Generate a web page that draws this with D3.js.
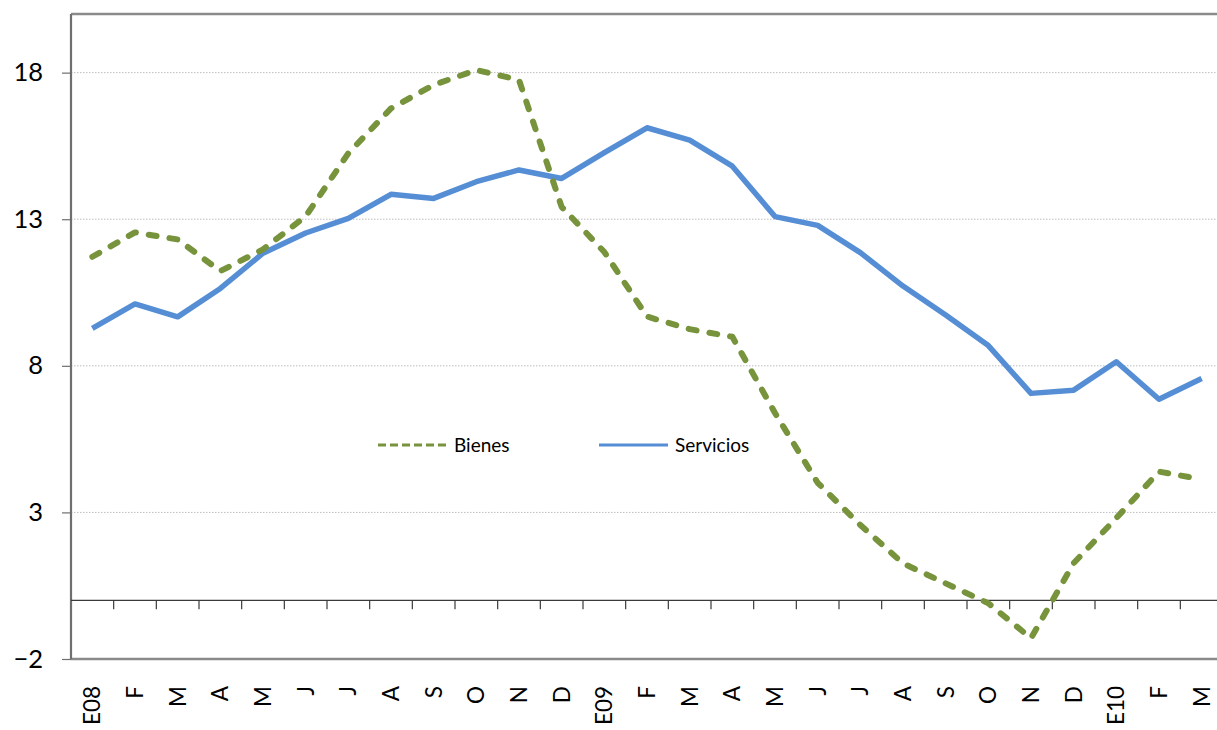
<!DOCTYPE html>
<html>
<head>
<meta charset="utf-8">
<script src="https://cdn.jsdelivr.net/npm/d3@7"></script>
<style>
  html, body { margin: 0; padding: 0; background: #fff; }
  svg { display: block; }
  text { font-family: Lato, "Open Sans", sans-serif; fill: #000; }
</style>
</head>
<body>
<svg id="chart" width="1217" height="730"></svg>
<script>
const categories = ["E08","F","M","A","M","J","J","A","S","O","N","D",
                    "E09","F","M","A","M","J","J","A","S","O","N","D",
                    "E10","F","M"];
const bienes = [11.72, 12.55, 12.31, 11.23, 11.97, 13.1, 15.25, 16.78, 17.58, 18.09, 17.75, 13.42,
                11.88, 9.68, 9.25, 8.99, 6.39, 4.01, 2.57, 1.26, 0.58, -0.1, -1.29, 1.27,
                2.81, 4.39, 4.13];
const servicios = [9.28, 10.11, 9.67, 10.64, 11.84, 12.53, 13.03, 13.85, 13.71, 14.28, 14.68, 14.39,
                   15.27, 16.12, 15.70, 14.81, 13.09, 12.79, 11.86, 10.72, 9.73, 8.69, 7.06, 7.17,
                   8.14, 6.86, 7.57];
const yTicks = [-2, 3, 8, 13, 18];
const seriesNames = ["Bienes", "Servicios"];

(function () {
const svg = d3.select("#chart");
const pL = 71, pR = 1223, pT = 14, pB = 659;

const x = d3.scaleBand().domain(d3.range(categories.length)).range([pL, pR]);
const y = d3.scaleLinear().domain([-2, 20]).range([pB, pT]);

// gridlines
svg.append("g").selectAll("line").data(yTicks.filter(d => d !== -2)).join("line")
  .attr("x1", pL).attr("x2", 1217)
  .attr("y1", d => y(d)).attr("y2", d => y(d))
  .attr("stroke", "#bdbdbd").attr("stroke-width", 1).attr("stroke-dasharray", "1.5,1.5");

// frame: top and bottom
svg.append("line").attr("x1", pL).attr("x2", 1217).attr("y1", pT).attr("y2", pT)
  .attr("stroke", "#8a8a8a").attr("stroke-width", 2.5);
svg.append("line").attr("x1", pL).attr("x2", 1217).attr("y1", pB).attr("y2", pB)
  .attr("stroke", "#8a8a8a").attr("stroke-width", 2.5);

// y axis
const yAxis = d3.axisLeft(y).tickValues(yTicks).tickSize(9).tickPadding(19).tickFormat(d3.format("d"));
const gy = svg.append("g").attr("transform", `translate(${pL},0)`).call(yAxis);
gy.select(".domain").attr("stroke", "#6f6f6f").attr("stroke-width", 2.2)
  .attr("d", `M0,${pT}V${pB}`);
gy.selectAll(".tick line").attr("stroke", "#6f6f6f").attr("stroke-width", 1.2);
gy.selectAll(".tick text").style("font-size", "25.5px").style("font-family", "Lato, sans-serif").attr("fill", "#000");

// x axis (at zero)
const gx = svg.append("g").attr("transform", `translate(0,${y(0)})`);
gx.append("line").attr("x1", pL).attr("x2", 1217).attr("y1", 0).attr("y2", 0)
  .attr("stroke", "#3a3a3a").attr("stroke-width", 1.3);
gx.selectAll("line.tk").data(d3.range(1, categories.length)).join("line").attr("class", "tk")
  .attr("x1", d => x(d)).attr("x2", d => x(d)).attr("y1", 0).attr("y2", 9)
  .attr("stroke", "#3a3a3a").attr("stroke-width", 1.2);

// x labels rotated
svg.append("g").selectAll("text").data(categories).join("text")
  .attr("transform", (d, i) => `translate(${x(i) + x.bandwidth() / 2},686) rotate(-90)`)
  .attr("text-anchor", "end").attr("dy", "0.36em")
  .style("font-size", "22.5px")
  .text(d => d);

// lines
const line = d3.line().x((d, i) => x(i) + x.bandwidth() / 2).y(d => y(d));
svg.append("path").datum(servicios).attr("d", line)
  .attr("fill", "none").attr("stroke", "#558ED5").attr("stroke-width", 5.5)
  .attr("stroke-linejoin", "round");
svg.append("path").datum(bienes).attr("d", line)
  .attr("fill", "none").attr("stroke", "#77933C").attr("stroke-width", 6)
  .attr("stroke-linecap", "round").attr("stroke-linejoin", "round")
  .attr("stroke-dasharray", "8,13");

// legend
const lg = svg.append("g");
lg.append("line").attr("x1", 378).attr("x2", 447).attr("y1", 445).attr("y2", 445)
  .attr("stroke", "#77933C").attr("stroke-width", 3).attr("stroke-dasharray", "8,4");
lg.append("text").attr("x", 454).attr("y", 445).attr("dy", "0.35em").style("font-size", "19px").text(seriesNames[0]);
lg.append("line").attr("x1", 599).attr("x2", 668).attr("y1", 445).attr("y2", 445)
  .attr("stroke", "#558ED5").attr("stroke-width", 3);
lg.append("text").attr("x", 675).attr("y", 445).attr("dy", "0.35em").style("font-size", "19px").text(seriesNames[1]);
})();
</script>
</body>
</html>
